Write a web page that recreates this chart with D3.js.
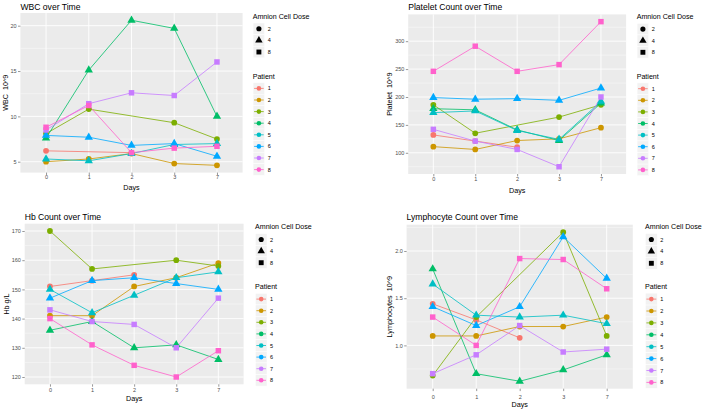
<!DOCTYPE html>
<html lang="en">
<head>
<meta charset="UTF-8">
<title>Blood counts over time by patient and amnion cell dose</title>
<style>
  body { margin: 0; background: #fff; }
  svg { display: block; font-family: "Liberation Sans", Arial, sans-serif; }
</style>
</head>
<body>
<svg id="chart"></svg>
<script src="https://cdn.jsdelivr.net/npm/d3@7/dist/d3.min.js"></script>
<script>
  var days = ["0", "1", "2", "3", "7"];
  var patients = ["1", "2", "3", "4", "5", "6", "7", "8"];
  var doseLevels = ["2", "4", "8"];
  var patientDose = ["2", "2", "2", "4", "4", "4", "8", "8"];
  var patientColors = ["#F8766D", "#CD9600", "#7CAE00", "#00BE67", "#00BFC4", "#00A9FF", "#C77CFF", "#FF61CC"];

  // one row per patient, one column per day (null = not measured)
  var wbc = [
    [6.2, null, 6.0, null, null],
    [5.0, 5.3, 5.9, 4.8, 4.6],
    [8.1, 10.8, null, 9.3, 7.5],
    [7.6, 15.1, 20.6, 19.7, 10.0],
    [5.3, 5.1, 5.9, 6.9, 7.0],
    [7.9, 7.7, 6.8, 7.0, 5.6],
    [8.5, 11.4, 12.6, 12.3, 16.0],
    [8.8, 11.2, 6.0, 6.5, 6.7]
  ];
  var platelet = [
    [132, 121, 110, null, null],
    [111, 106, 122, 125, 145],
    [186, 135, null, 164, 186],
    [179, 177, 141, 122, 189],
    [172, 175, 140, 124, 192],
    [199, 196, 197, 194, 216],
    [142, 121, 106, 75, 200],
    [246, 291, 246, 258, 335]
  ];
  var hb = [
    [151, 153, 155, null, null],
    [141, 141, 151, 154, 159],
    [170, 157, null, 160, 158],
    [136, 139, 130, 131, 126],
    [150, 142, 148, 154, 156],
    [147, 153, 154, 152, 150],
    [143, 139, 138, 130, 147],
    [140, 131, 124, 120, 129]
  ];
  var lymph = [
    [1.44, 1.27, 1.08, null, null],
    [1.10, 1.10, 1.20, 1.20, 1.30],
    [0.68, 1.30, null, 2.20, 1.10],
    [1.81, 0.70, 0.62, 0.74, 0.90],
    [1.65, 1.32, 1.30, 1.32, 1.23],
    [1.41, 1.21, 1.41, 2.15, 1.71],
    [0.70, 0.90, 1.21, 0.93, 0.96],
    [1.30, 1.00, 1.92, 1.91, 1.60]
  ];

  var wbcTicks = [5, 10, 15, 20];
  var plateletTicks = [100, 150, 200, 250, 300];
  var hbTicks = [120, 130, 140, 150, 160, 170];
  var lymphTicks = [1.0, 1.5, 2.0];

  var width = 708, height = 411;
  var svg = d3.select("#chart").attr("width", width).attr("height", height);

  var shapeOf = { "2": d3.symbolCircle, "4": d3.symbolTriangle, "8": d3.symbolSquare };
  var sizeOf = { "2": 26, "4": 30, "8": 30 };

  var panels = [
    { title: "WBC over Time", yTitle: "WBC  10^9", values: wbc, ticks: wbcTicks, fmt: d3.format("d"),
      left: 20.4, right: 242.6, top: 13, bottom: 172.6, titleY: 10, xLabY: 178.6, daysY: 190, yTitleX: 8,
      lx: 252.7, ly: 16, key: 11.6 },
    { title: "Platelet Count over Time", yTitle: "Platelet  10^9", values: platelet, ticks: plateletTicks, fmt: d3.format("d"),
      left: 408.2, right: 626.1, top: 14.4, bottom: 174, titleY: 10, xLabY: 181, daysY: 193, yTitleX: 391.5,
      lx: 636.7, ly: 16.3, key: 11.6 },
    { title: "Hb Count over Time", yTitle: "Hb g/L", values: hb, ticks: hbTicks, fmt: d3.format("d"),
      left: 24.7, right: 243.6, top: 223.7, bottom: 384.3, titleY: 219.5, xLabY: 392, daysY: 400.5, yTitleX: 9,
      lx: 255, ly: 226.7, key: 11.6 },
    { title: "Lymphocyte Count over Time", yTitle: "Lymphocytes  10^9", values: lymph, ticks: lymphTicks, fmt: d3.format(".1f"),
      left: 406.6, right: 632.8, top: 224.7, bottom: 388.7, titleY: 220, xLabY: 399, daysY: 406.5, yTitleX: 391.5,
      lx: 645, ly: 226.7, key: 11.9 }
  ];

  panels.forEach(drawPanel);

  function drawPanel(p) {
    var g = svg.append("g");

    var x = d3.scalePoint().domain(days).range([p.left, p.right]).padding(0.6);
    var ext = d3.extent(p.values.flat().filter(function (v) { return v != null; }));
    var pad = (ext[1] - ext[0]) * 0.05;
    var y = d3.scaleLinear().domain([ext[0] - pad, ext[1] + pad]).range([p.bottom, p.top]);

    g.append("rect")
      .attr("x", p.left).attr("y", p.top)
      .attr("width", p.right - p.left).attr("height", p.bottom - p.top)
      .attr("fill", "#EBEBEB");

    // minor grid halfway between the major breaks
    var step = p.ticks[1] - p.ticks[0];
    var minor = [p.ticks[0] - step / 2].concat(p.ticks.map(function (t) { return t + step / 2; }))
      .filter(function (v) { return v > y.domain()[0] && v < y.domain()[1]; });

    g.selectAll(".minor").data(minor).enter().append("line")
      .attr("x1", p.left).attr("x2", p.right)
      .attr("y1", function (d) { return y(d); }).attr("y2", function (d) { return y(d); })
      .attr("stroke", "#fff").attr("stroke-width", 0.4);

    g.selectAll(".hmajor").data(p.ticks).enter().append("line")
      .attr("x1", p.left).attr("x2", p.right)
      .attr("y1", function (d) { return y(d); }).attr("y2", function (d) { return y(d); })
      .attr("stroke", "#fff").attr("stroke-width", 0.9);

    g.selectAll(".vmajor").data(days).enter().append("line")
      .attr("x1", function (d) { return x(d); }).attr("x2", function (d) { return x(d); })
      .attr("y1", p.top).attr("y2", p.bottom)
      .attr("stroke", "#fff").attr("stroke-width", 0.9);

    // axes
    var yAxis = g.append("g")
      .attr("transform", "translate(" + p.left + ",0)")
      .call(d3.axisLeft(y).tickValues(p.ticks).tickFormat(p.fmt).tickSize(2.4).tickPadding(1.4));
    var xAxis = g.append("g")
      .attr("transform", "translate(0," + p.bottom + ")")
      .call(d3.axisBottom(x).tickSize(2.4));
    [yAxis, xAxis].forEach(function (a) {
      a.select(".domain").remove();
      a.selectAll(".tick line").attr("stroke", "#333").attr("stroke-width", 0.5);
      a.selectAll(".tick text").attr("fill", "#4D4D4D").attr("font-size", 5.5)
        .attr("font-family", "Liberation Sans, Arial, sans-serif");
    });
    xAxis.selectAll(".tick text").attr("y", p.xLabY - p.bottom).attr("dy", 0);

    // lines then points, one group per patient
    var line = d3.line()
      .x(function (d) { return x(d.day); })
      .y(function (d) { return y(d.v); });

    patients.forEach(function (pt, i) {
      var pts = days.map(function (dd, j) { return { day: dd, v: p.values[i][j] }; })
        .filter(function (d) { return d.v != null; });
      g.append("path").datum(pts)
        .attr("d", line)
        .attr("fill", "none")
        .attr("stroke", patientColors[i])
        .attr("stroke-width", 0.8);
    });

    patients.forEach(function (pt, i) {
      var pts = days.map(function (dd, j) { return { day: dd, v: p.values[i][j] }; })
        .filter(function (d) { return d.v != null; });
      var dose = patientDose[i];
      g.selectAll(null).data(pts).enter().append("path")
        .attr("transform", function (d) { return "translate(" + x(d.day) + "," + y(d.v) + ")"; })
        .attr("d", d3.symbol().type(shapeOf[dose]).size(sizeOf[dose]))
        .attr("fill", patientColors[i]);
    });

    // titles
    g.append("text").attr("x", p.left).attr("y", p.titleY)
      .attr("font-size", 8.6).attr("fill", "#000").text(p.title);
    g.append("text").attr("x", (p.left + p.right) / 2).attr("y", p.daysY)
      .attr("text-anchor", "middle").attr("font-size", 7.2).attr("fill", "#000").text("Days");
    g.append("text")
      .attr("transform", "translate(" + p.yTitleX + "," + (p.top + p.bottom) / 2 + ") rotate(-90)")
      .attr("text-anchor", "middle").attr("font-size", 7.2).attr("fill", "#000")
      .style("white-space", "pre").text(p.yTitle);

    drawLegend(p);
  }

  function drawLegend(p) {
    var g = svg.append("g");
    var k = p.key;
    var kx = p.lx + 0.4;

    g.append("text").attr("x", p.lx).attr("y", p.ly + 2.5)
      .attr("font-size", 7.1).attr("fill", "#000").text("Amnion Cell Dose");

    doseLevels.forEach(function (d, i) {
      var cy = p.ly + 12.8 + i * k;
      g.append("rect").attr("x", kx).attr("y", cy - k / 2).attr("width", k).attr("height", k)
        .attr("fill", "#F2F2F2").attr("stroke", "#fff").attr("stroke-width", 0.5);
      g.append("path")
        .attr("transform", "translate(" + (kx + k / 2) + "," + cy + ")")
        .attr("d", d3.symbol().type(shapeOf[d]).size(sizeOf[d] * 0.8))
        .attr("fill", "#000");
      g.append("text").attr("x", kx + k + 3).attr("y", cy + 2)
        .attr("font-size", 5.5).attr("fill", "#000").text(d);
    });

    g.append("text").attr("x", p.lx).attr("y", p.ly + 62.5)
      .attr("font-size", 7.1).attr("fill", "#000").text("Patient");

    patients.forEach(function (pt, i) {
      var cy = p.ly + 72.4 + i * k;
      g.append("rect").attr("x", kx).attr("y", cy - k / 2).attr("width", k).attr("height", k)
        .attr("fill", "#F2F2F2").attr("stroke", "#fff").attr("stroke-width", 0.5);
      g.append("line").attr("x1", kx + 1).attr("x2", kx + k - 1).attr("y1", cy).attr("y2", cy)
        .attr("stroke", patientColors[i]).attr("stroke-width", 0.8);
      g.append("circle").attr("cx", kx + k / 2).attr("cy", cy).attr("r", 2.3)
        .attr("fill", patientColors[i]);
      g.append("text").attr("x", kx + k + 3).attr("y", cy + 2)
        .attr("font-size", 5.5).attr("fill", "#000").text(pt);
    });
  }
</script>
</body>
</html>
